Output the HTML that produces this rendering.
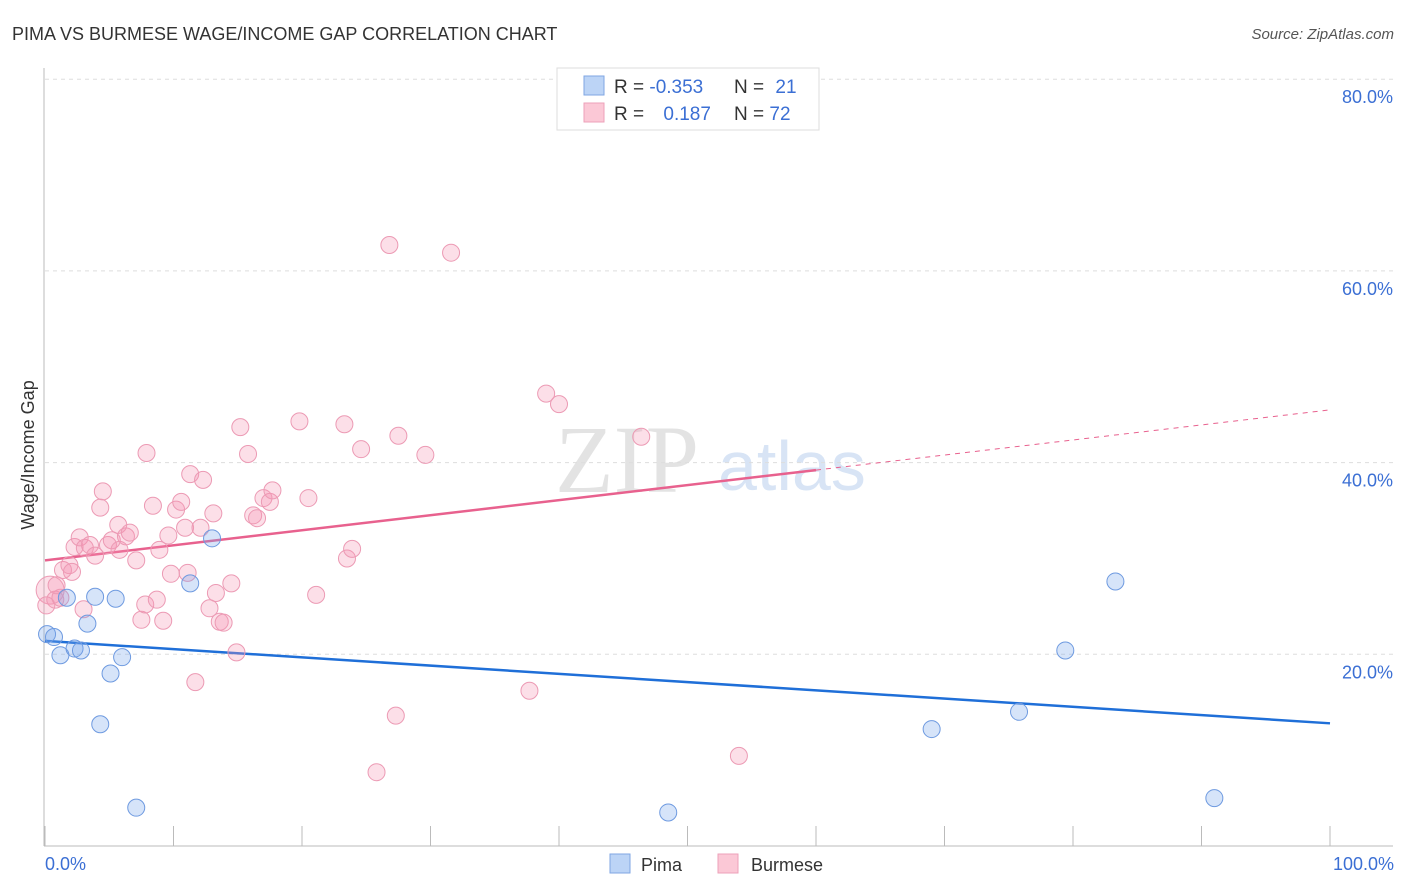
<!DOCTYPE html>
<html><head><meta charset="utf-8"><style>
body{margin:0;background:#fff;font-family:"Liberation Sans",sans-serif}
svg{display:block}
</style></head><body>
<svg width="1406" height="892">
<text x="12" y="40" font-size="18" fill="#333">PIMA VS BURMESE WAGE/INCOME GAP CORRELATION CHART</text>
<text x="1394" y="39" font-size="15" fill="#555" font-style="italic" text-anchor="end">Source: ZipAtlas.com</text>
<g>
<text x="555" y="492" font-size="96" font-family="Liberation Serif,serif" fill="#ddd" opacity="0.8">ZIP</text>
<text x="718" y="490" font-size="70" fill="#c8daf2" opacity="0.7">atlas</text>
</g>
<g id="grid"></g>
<g id="axes"></g>
<g id="lines"></g>
<g id="pts"></g>
<text transform="translate(34,455) rotate(-90)" font-size="18" fill="#333" text-anchor="middle">Wage/Income Gap</text>
<text x="45" y="870" font-size="18" fill="#3b6fd4">0.0%</text>
<text x="1394" y="870" font-size="18" fill="#3b6fd4" text-anchor="end">100.0%</text>
<g>
<rect x="557" y="68" width="262" height="62" fill="#fff" stroke="#ddd"/>
<rect x="584" y="76" width="20" height="19" fill="#bcd4f6" stroke="#7fa6e3"/>
<rect x="584" y="103" width="20" height="19" fill="#fbc8d6" stroke="#eda1b9"/>
<text x="614" y="93" font-size="19" fill="#333">R = <tspan fill="#3b6fd4">-0.353</tspan></text>
<text x="734" y="93" font-size="19" fill="#333">N = <tspan fill="#3b6fd4" dx="6">21</tspan></text>
<text x="614" y="120" font-size="19" fill="#333">R = <tspan fill="#3b6fd4" dx="14">0.187</tspan></text>
<text x="734" y="120" font-size="19" fill="#333">N = <tspan fill="#3b6fd4">72</tspan></text>
</g>
<g>
<rect x="610" y="854" width="20" height="19" fill="#bcd4f6" stroke="#7fa6e3"/>
<text x="641" y="871" font-size="18" fill="#333">Pima</text>
<rect x="718" y="854" width="20" height="19" fill="#fbc8d6" stroke="#eda1b9"/>
<text x="751" y="871" font-size="18" fill="#333">Burmese</text>
</g>
</svg>
<script>
const yTicks=[20,40,60,80];
const yTickLabels=["20.0%","40.0%","60.0%","80.0%"];
const xTicks=[0,10,20,30,40,50,60,70,80,90,100];
const pimaX=[0.16,0.7,1.2,1.7,2.3,2.8,3.3,3.9,4.3,5.1,5.5,6.0,7.1,11.3,13.0,48.5,69.0,75.8,79.4,83.3,91.0];
const pimaY=[22.1,21.8,19.9,25.9,20.6,20.4,23.2,26.0,12.7,18.0,25.8,19.7,4.0,27.4,32.1,3.5,12.2,14.0,20.4,27.6,5.0];
const burX=[0.4,0.8,1.2,1.4,1.9,2.1,2.3,2.7,3.1,3.5,3.9,4.3,4.5,3.0,4.9,5.2,5.7,5.8,6.3,6.6,7.1,7.5,7.8,7.9,8.4,8.7,8.9,9.2,9.6,9.8,10.2,10.6,10.9,11.1,11.3,11.7,12.1,12.3,12.8,13.1,13.3,13.6,13.9,14.5,14.9,15.2,15.8,16.2,16.5,17.0,17.5,17.7,19.8,20.5,21.1,23.3,23.5,23.9,24.6,25.8,26.8,27.3,27.5,29.6,31.6,37.7,39.0,40.0,46.4,54.0,0.1,0.9];
const burY=[26.7,25.7,25.9,28.8,29.3,28.6,31.2,32.2,31.1,31.4,30.3,35.3,37.0,24.7,31.4,31.9,33.5,30.9,32.3,32.7,29.8,23.6,25.2,41.0,35.5,25.7,30.9,23.5,32.4,28.4,35.1,35.9,33.2,28.5,38.8,17.1,33.2,38.2,24.8,34.7,26.4,23.4,23.3,27.4,20.2,43.7,40.9,34.5,34.2,36.3,35.9,37.1,44.3,36.3,26.2,44.0,30.0,31.0,41.4,7.7,62.7,13.6,42.8,40.8,61.9,16.2,47.2,46.1,42.7,9.4,25.1,27.2];
const pimaTrend=[21.4,12.8];
const burTrend=[29.8,45.5];
const burSolidEnd=60;
const NS="http://www.w3.org/2000/svg";
const X=v=>45+v*12.85, Y=v=>846-v*9.585;
function mk(tag,attrs,parent){const e=document.createElementNS(NS,tag);for(const k in attrs)e.setAttribute(k,attrs[k]);document.getElementById(parent).appendChild(e);return e;}
yTicks.forEach((t,i)=>{
 const l=mk('line',{x1:45,x2:1393,y1:Y(t),y2:Y(t),stroke:'#ddd','stroke-dasharray':'4,4'},'grid');
 
 
 const tx=mk('text',{x:1393,y:Y(t)+24,'font-size':18,fill:'#3b6fd4','text-anchor':'end'},'grid');
 tx.textContent=yTickLabels[i];
 
 
});
const ya=mk('line',{x1:44,x2:44,y1:68,y2:846,stroke:'#bbb'},'axes');


const xa=mk('line',{x1:44,x2:1393,y1:846,y2:846,stroke:'#bbb'},'axes');


xTicks.forEach(t=>{
 const l=mk('line',{x1:X(t),x2:X(t),y1:826,y2:846,stroke:'#bbb'},'axes');
 
 
});
function pts(xs,ys,fill,stroke,name){
 xs.forEach((x,i)=>{
  const c=mk('circle',{cx:X(x),cy:Y(ys[i]),r:(name==='burmese-point'&&i===0)?14:8.5,fill:fill,stroke:stroke,'stroke-width':1},'pts');
  
  
 });
}
pts(burX,burY,'rgba(244,150,180,0.3)','#ec9ab4','burmese-point');
pts(pimaX,pimaY,'rgba(120,165,235,0.3)','#6e9ae0','pima-point');
const bt=x=>burTrend[0]+(burTrend[1]-burTrend[0])*x/100;
const b1=mk('line',{x1:X(0),y1:Y(bt(0)),x2:X(burSolidEnd),y2:Y(bt(burSolidEnd)),stroke:'#e8618e','stroke-width':2.5},'lines');


const b2=mk('line',{x1:X(burSolidEnd),y1:Y(bt(burSolidEnd)),x2:X(100),y2:Y(bt(100)),stroke:'#e8618e','stroke-width':1,'stroke-dasharray':'5,5'},'lines');


const p1=mk('line',{x1:X(0),y1:Y(pimaTrend[0]),x2:X(100),y2:Y(pimaTrend[1]),stroke:'#1f6fd8','stroke-width':2.5},'lines');


</script>
</body></html>
